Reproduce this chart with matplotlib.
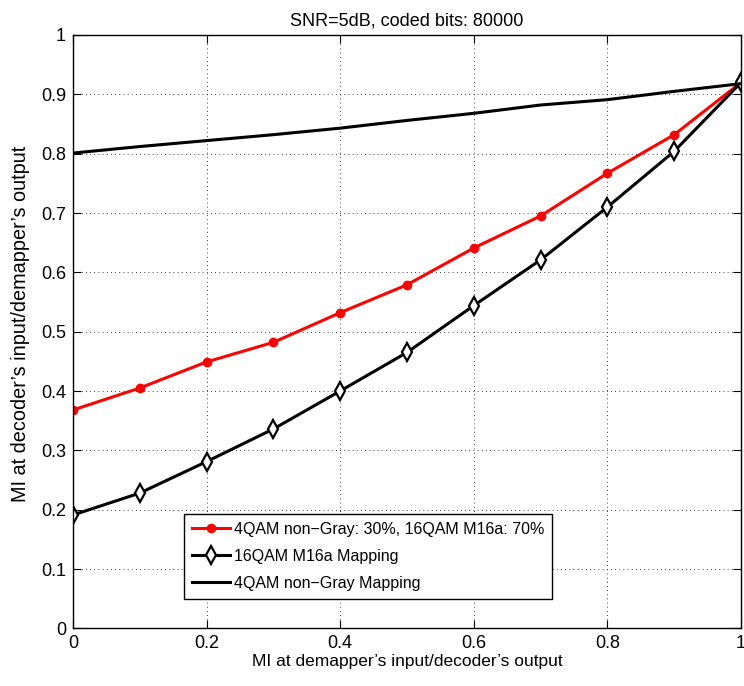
import numpy as np
import matplotlib.pyplot as plt

plt.rcParams['font.family'] = ['Liberation Sans', 'DejaVu Sans']
plt.rcParams['font.size'] = 12

# MI transfer curves
x = [0.0, 0.1, 0.2, 0.3, 0.4, 0.5, 0.6, 0.7, 0.8, 0.9, 1.0]
mi_mixed = [0.368, 0.405, 0.449, 0.482, 0.532, 0.579, 0.641, 0.695, 0.767, 0.832, 0.920]
mi_16qam = [0.191, 0.228, 0.281, 0.336, 0.400, 0.465, 0.544, 0.621, 0.710, 0.804, 0.920]
mi_4qam = [0.801, 0.812, 0.822, 0.832, 0.843, 0.856, 0.868, 0.882, 0.891, 0.905, 0.918]

labels = ['4QAM non\u2212Gray: 30%, 16QAM M16a: 70%',
          '16QAM M16a Mapping',
          '4QAM non\u2212Gray Mapping']

fig = plt.figure(figsize=(7.44, 6.86), dpi=100)
ax = fig.add_axes([0.098, 0.084, 0.898, 0.865])

ax.plot(x, mi_mixed, color='red', lw=2.2, marker='o', markersize=6,
        markerfacecolor='red', markeredgecolor='red', label=labels[0])
ax.plot(x, mi_16qam, color='black', lw=2.2, marker='d', markersize=9,
        markerfacecolor='white', markeredgecolor='black', markeredgewidth=1.6,
        label=labels[1])
ax.plot(x, mi_4qam, color='black', lw=2.2, label=labels[2])

ax.set_xlim(0, 1)
ax.set_ylim(0, 1)
ax.set_xticks(np.arange(0, 1.01, 0.2))
ax.set_yticks(np.arange(0, 1.01, 0.1))
ax.set_xticklabels(['0', '0.2', '0.4', '0.6', '0.8', '1'])
ax.set_yticklabels(['0', '0.1', '0.2', '0.3', '0.4', '0.5', '0.6', '0.7', '0.8', '0.9', '1'])
ax.tick_params(direction='in', length=6, width=0.8, top=True, right=True,
               pad=5, labelsize=13)
ax.grid(True, color='black', linestyle=(0, (1, 4)), linewidth=0.6)
for s in ax.spines.values():
    s.set_linewidth(1.0)

ax.set_title('SNR=5dB, coded bits: 80000', fontsize=13, pad=7)
ax.set_xlabel('MI at demapper\u2019s input/decoder\u2019s output', fontsize=12.5, labelpad=1)
ax.set_ylabel('MI at decoder\u2019s input/demapper\u2019s output', fontsize=14.3)
ax.yaxis.set_label_coords(-0.064, 0.513)

leg = ax.legend(loc='lower left', bbox_to_anchor=(0.166, 0.05), fancybox=False,
                framealpha=1, edgecolor='black', fontsize=11.5, borderpad=0.5,
                labelspacing=0.75, handlelength=2.4, handletextpad=0.25,
                borderaxespad=0)
leg.get_frame().set_linewidth(1.0)

fig.savefig('out.png', dpi=100)
